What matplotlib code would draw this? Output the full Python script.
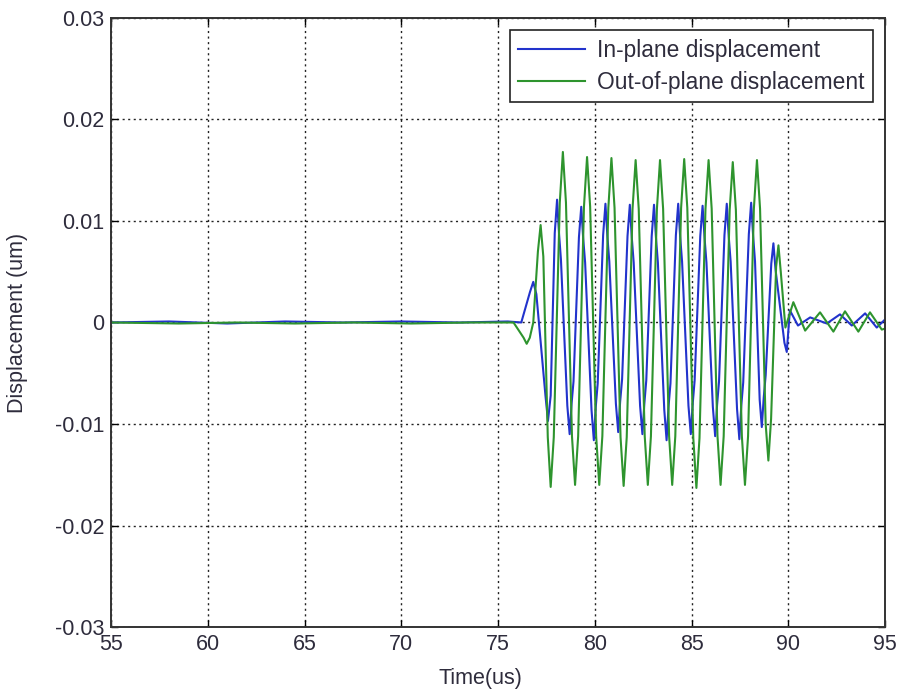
import matplotlib
matplotlib.use('Agg')
import matplotlib.pyplot as plt

# In-plane displacement (blue)
t_in = [55.0, 58.0, 61.0, 64.0, 67.0, 70.0, 73.0, 75.5, 76.2,
        76.65, 76.82, 76.98, 77.45, 77.58, 77.72,
        77.93, 78.05, 78.15, 78.25, 78.58, 78.70, 78.80, 78.90,
        79.18, 79.30, 79.40, 79.50, 79.83, 79.95, 80.05, 80.15,
        80.43, 80.55, 80.65, 80.75, 81.09, 81.21, 81.31, 81.41,
        81.69, 81.81, 81.91, 82.01, 82.34, 82.46, 82.56, 82.66,
        82.94, 83.06, 83.16, 83.26, 83.59, 83.71, 83.81, 83.91,
        84.19, 84.31, 84.41, 84.51, 84.84, 84.96, 85.06, 85.16,
        85.45, 85.57, 85.67, 85.77, 86.10, 86.22, 86.32, 86.42,
        86.70, 86.82, 86.92, 87.02, 87.35, 87.47, 87.57, 87.67,
        87.96, 88.08, 88.18, 88.28, 88.52, 88.63, 88.73, 88.83,
        89.12, 89.23, 89.34, 89.80, 89.92, 90.08, 90.50, 91.13, 91.99,
        92.67, 93.28, 93.97, 94.57, 95.0]
u_in = [0.0, 0.0001, -0.0001, 0.0001, 0.0, 0.0001, 0.0, 0.0001, 0.0,
        0.0030, 0.0040, 0.0028, -0.0072, -0.0097, -0.0072,
        0.0088, 0.0121, 0.0088, 0.0062, -0.0082, -0.0110, -0.0080, -0.0058,
        0.0084, 0.0114, 0.0083, 0.0059, -0.0086, -0.0116, -0.0083, -0.0060,
        0.0086, 0.0117, 0.0085, 0.0060, -0.0080, -0.0108, -0.0078, -0.0056,
        0.0085, 0.0116, 0.0084, 0.0059, -0.0082, -0.0110, -0.0080, -0.0057,
        0.0085, 0.0116, 0.0084, 0.0059, -0.0086, -0.0116, -0.0083, -0.0060,
        0.0086, 0.0117, 0.0085, 0.0060, -0.0082, -0.0110, -0.0080, -0.0057,
        0.0085, 0.0115, 0.0084, 0.0059, -0.0083, -0.0112, -0.0081, -0.0058,
        0.0086, 0.0117, 0.0085, 0.0060, -0.0085, -0.0115, -0.0082, -0.0059,
        0.0087, 0.0118, 0.0086, 0.0060, -0.0076, -0.0103, -0.0074, -0.0052,
        0.0058, 0.0078, 0.0052, -0.0020, -0.0029, 0.0012, -0.0003, 0.0005, -0.0001,
        0.0008, -0.0003, 0.0009, -0.0005, 0.0003]

# Out-of-plane displacement (green)
t_out = [55.0, 58.5, 61.5, 64.5, 67.5, 70.5, 73.5, 75.8, 76.32, 76.48, 76.64, 76.82,
         77.06, 77.20, 77.34, 77.57, 77.72, 77.88,
         78.19, 78.35, 78.51, 78.82, 78.98, 79.14,
         79.44, 79.60, 79.76, 80.07, 80.23, 80.39,
         80.70, 80.86, 81.02, 81.33, 81.49, 81.65,
         81.95, 82.11, 82.27, 82.58, 82.74, 82.90,
         83.21, 83.37, 83.53, 83.84, 84.00, 84.16,
         84.46, 84.62, 84.78, 85.09, 85.25, 85.41,
         85.72, 85.88, 86.04, 86.34, 86.50, 86.66,
         86.97, 87.13, 87.29, 87.60, 87.76, 87.92,
         88.22, 88.38, 88.54, 88.83, 88.97, 89.11,
         89.37, 89.49, 89.61, 89.85, 90.26, 90.87, 91.64, 92.33, 92.93,
         93.62, 94.22, 94.83, 95.0]
u_out = [0.0, -0.0001, 0.0, -0.0001, 0.0, -0.0001, 0.0, 0.0, -0.0015, -0.0021, -0.0015, 0.0,
         0.0070, 0.0096, 0.0065, -0.0113, -0.0162, -0.0113,
         0.0118, 0.0168, 0.0118, -0.0112, -0.0160, -0.0112,
         0.0114, 0.0163, 0.0114, -0.0112, -0.0160, -0.0112,
         0.0113, 0.0162, 0.0113, -0.0113, -0.0161, -0.0113,
         0.0112, 0.0160, 0.0112, -0.0112, -0.0160, -0.0112,
         0.0112, 0.0160, 0.0112, -0.0112, -0.0160, -0.0112,
         0.0113, 0.0161, 0.0113, -0.0114, -0.0163, -0.0114,
         0.0112, 0.0160, 0.0112, -0.0112, -0.0160, -0.0112,
         0.0111, 0.0158, 0.0111, -0.0112, -0.0160, -0.0112,
         0.0112, 0.0160, 0.0112, -0.0100, -0.0136, -0.0095,
         0.0055, 0.0076, 0.0050, -0.0005, 0.0020, -0.0008, 0.0010, -0.0009, 0.0011,
         -0.0009, 0.0010, -0.0007, -0.0006]

xticks = [55, 60, 65, 70, 75, 80, 85, 90, 95]
yticks = [-0.03, -0.02, -0.01, 0, 0.01, 0.02, 0.03]
ytick_labels = ['-0.03', '-0.02', '-0.01', '0', '0.01', '0.02', '0.03']

C_IN = '#2233cc'
C_OUT = '#2e942e'
C_TXT = '#2e2c3c'

plt.rcParams['font.family'] = ['Liberation Sans', 'DejaVu Sans']

fig = plt.figure(figsize=(8.99, 6.91), dpi=100)
fig.patch.set_facecolor('white')
ax = fig.add_axes([0.1235, 0.0926, 0.861, 0.8814])

ax.plot(t_in, u_in, color=C_IN, lw=1.5, label='In-plane displacement')
ax.plot(t_out, u_out, color=C_OUT, lw=1.5, label='Out-of-plane displacement')

ax.set_xlim(55, 95)
ax.set_ylim(-0.03, 0.03)
ax.set_xticks(xticks)
ax.set_yticks(yticks)
ax.set_yticklabels(ytick_labels)

ax.grid(True, color='#222222', linestyle=(0, (1.5, 2.5)), linewidth=1.0)
ax.tick_params(direction='in', length=5, width=1, top=True, right=True,
               labelsize=15.5, labelcolor=C_TXT, pad=5)
for sp in ax.spines.values():
    sp.set_linewidth(1.4)
    sp.set_color('#333333')

ax.set_xlabel('Time(us)', fontsize=15.5, color=C_TXT)
ax.set_ylabel('Displacement (um)', fontsize=15.5, color=C_TXT)
ax.xaxis.set_label_coords(0.477, -0.068)
ax.yaxis.set_label_coords(-0.107, 0.5)

leg = ax.legend(loc='upper right', fontsize=16.4, handlelength=2.95,
                handletextpad=0.5, labelspacing=0.42, borderaxespad=0.55,
                fancybox=False, framealpha=1, edgecolor='#222222', borderpad=0.36)
leg.get_frame().set_linewidth(1.2)
for txt in leg.get_texts():
    txt.set_color(C_TXT)

fig.savefig('out.png', dpi=100)
